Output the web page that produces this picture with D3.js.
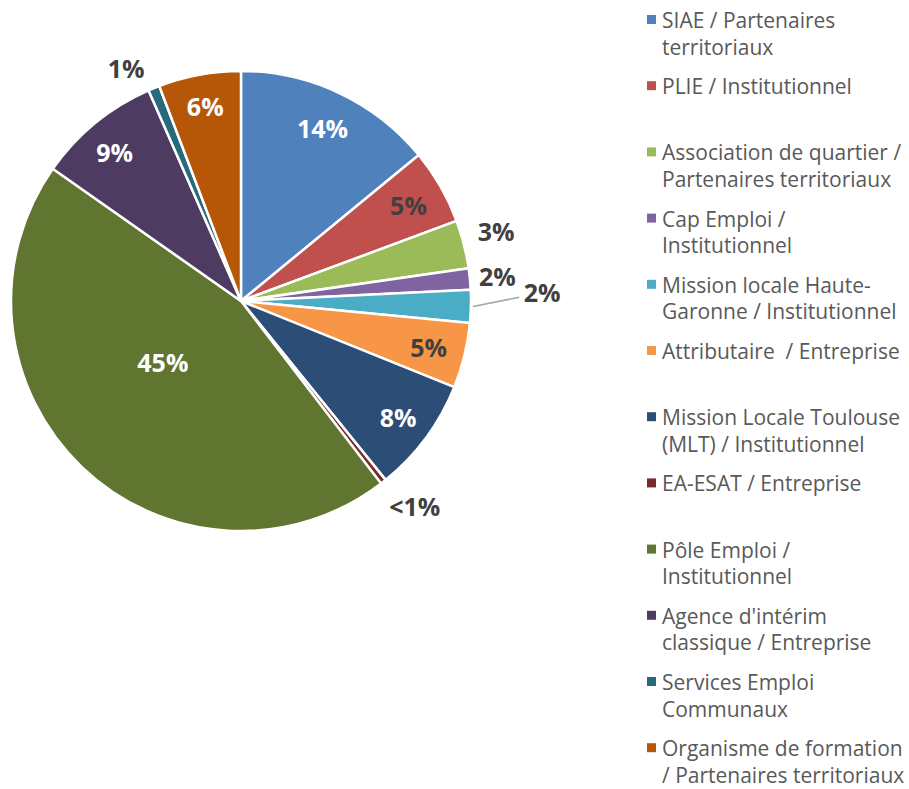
<!DOCTYPE html>
<html>
<head>
<meta charset="utf-8">
<script src="https://cdn.jsdelivr.net/npm/d3@7"></script>
<style>
  body { margin: 0; background: #fff; }
  svg { display: block; }
</style>
</head>
<body>
<script>
// categories, in pie order (clockwise from 12 o'clock); "\n" marks the legend line break
const categories = [
  'SIAE / Partenaires\nterritoriaux',
  'PLIE / Institutionnel',
  'Association de quartier /\nPartenaires territoriaux',
  'Cap Emploi /\nInstitutionnel',
  'Mission locale Haute-\nGaronne / Institutionnel',
  'Attributaire  / Entreprise',
  'Mission Locale Toulouse\n(MLT) / Institutionnel',
  'EA-ESAT / Entreprise',
  'Pôle Emploi /\nInstitutionnel',
  "Agence d'intérim\nclassique / Entreprise",
  'Services Emploi\nCommunaux',
  'Organisme de formation\n/ Partenaires territoriaux'
]
// shares in percent
const values = [14.1, 5.3, 3.4, 1.5, 2.3, 4.6, 8.1, 0.4, 45.3, 8.7, 0.8, 5.8]
// data labels as printed on the chart
const labels = ['14%', '5%', '3%', '2%', '2%', '5%', '8%', '<1%', '45%', '9%', '1%', '6%']

const colors = [
  '#4f81bd', '#c0504d', '#9bbb59', '#8064a2', '#4bacc6', '#f79646',
  '#2c4d75', '#772c2a', '#5f7530', '#4d3b62', '#276a7c', '#b65708'
]

const width = 909
const height = 789
const cx = 241
const cy = 301
const radius = 230

// label placement (fraction of radius, angle nudge in degrees), excel "best fit" look
const labelRadius = [0.83, 0.84, 1.15, 1.12, 1.31, 0.84, 0.85, 1.17, 0.43, 0.85, 1.13, 0.86]
const labelNudge = [0, 0, -1, 0, -3, 0, 0, -2, 8.4, -1, -4, 0]
const darkText = '#404040'
const labelFill = ['#fff', darkText, darkText, darkText, darkText, darkText, '#fff', darkText, '#fff', '#fff', darkText, '#fff']

const svg = d3.select('body')
  .append('svg')
  .attr('width', width)
  .attr('height', height)

const data = categories.map((c, i) => ({ name: c, value: values[i], label: labels[i], i }))

const pie = d3.pie().sort(null).value(d => d.value)
const arcs = pie(data)

const arc = d3.arc().innerRadius(0).outerRadius(radius)

const g = svg.append('g').attr('transform', `translate(${cx},${cy})`)

g.selectAll('path.slice')
  .data(arcs)
  .enter()
  .append('path')
  .attr('class', 'slice')
  .attr('d', arc)
  .style('fill', d => colors[d.data.i])
  .style('stroke', '#fff')
  .style('stroke-width', 2.5)
  .style('stroke-linejoin', 'round')

const labelPos = d => {
  const r = radius * labelRadius[d.data.i]
  const a = (d.startAngle + d.endAngle) / 2 + (labelNudge[d.data.i] * Math.PI) / 180
  return [Math.sin(a) * r, -Math.cos(a) * r]
}

// leader line for the small mission locale slice
const leader = arcs[4]
{
  const a = (leader.startAngle + leader.endAngle) / 2
  const p0 = [Math.sin(a) * (radius + 2), -Math.cos(a) * (radius + 2)]
  const p1 = labelPos(leader)
  g.append('line')
    .attr('x1', p0[0])
    .attr('y1', p0[1])
    .attr('x2', p1[0] - 23)
    .attr('y2', p1[1] + 5)
    .style('stroke', '#a6a6a6')
    .style('stroke-width', 1.5)
}

g.selectAll('text.label')
  .data(arcs)
  .enter()
  .append('text')
  .attr('class', 'label')
  .attr('x', d => labelPos(d)[0])
  .attr('y', d => labelPos(d)[1])
  .attr('text-anchor', 'middle')
  .attr('dominant-baseline', 'central')
  .style('font-family', '"Open Sans", sans-serif')
  .style('font-weight', 'bold')
  .style('font-size', '25px')
  .style('fill', d => labelFill[d.data.i])
  .text(d => d.data.label)

// legend
const legendX = 647
const legendY = 20
const legendStep = 66.2
const lineHeight = 26.5

const legend = svg.append('g').attr('class', 'legend')

const items = legend.selectAll('g.item')
  .data(data)
  .enter()
  .append('g')
  .attr('class', 'item')
  .attr('transform', (d, i) => `translate(${legendX},${legendY + i * legendStep})`)

items.append('rect')
  .attr('x', 0)
  .attr('y', -5)
  .attr('width', 9)
  .attr('height', 9)
  .style('fill', d => colors[d.i])

items.append('text')
  .attr('x', 15)
  .attr('y', 0)
  .style('font-family', '"Open Sans", sans-serif')
  .style('font-size', '21px')
  .style('fill', '#595959')
  .selectAll('tspan')
  .data(d => d.name.split('\n'))
  .enter()
  .append('tspan')
  .attr('x', 15)
  .attr('y', (d, i) => i * lineHeight)
  .attr('dominant-baseline', 'central')
  .style('white-space', 'pre')
  .text(d => d)
</script>
</body>
</html>
